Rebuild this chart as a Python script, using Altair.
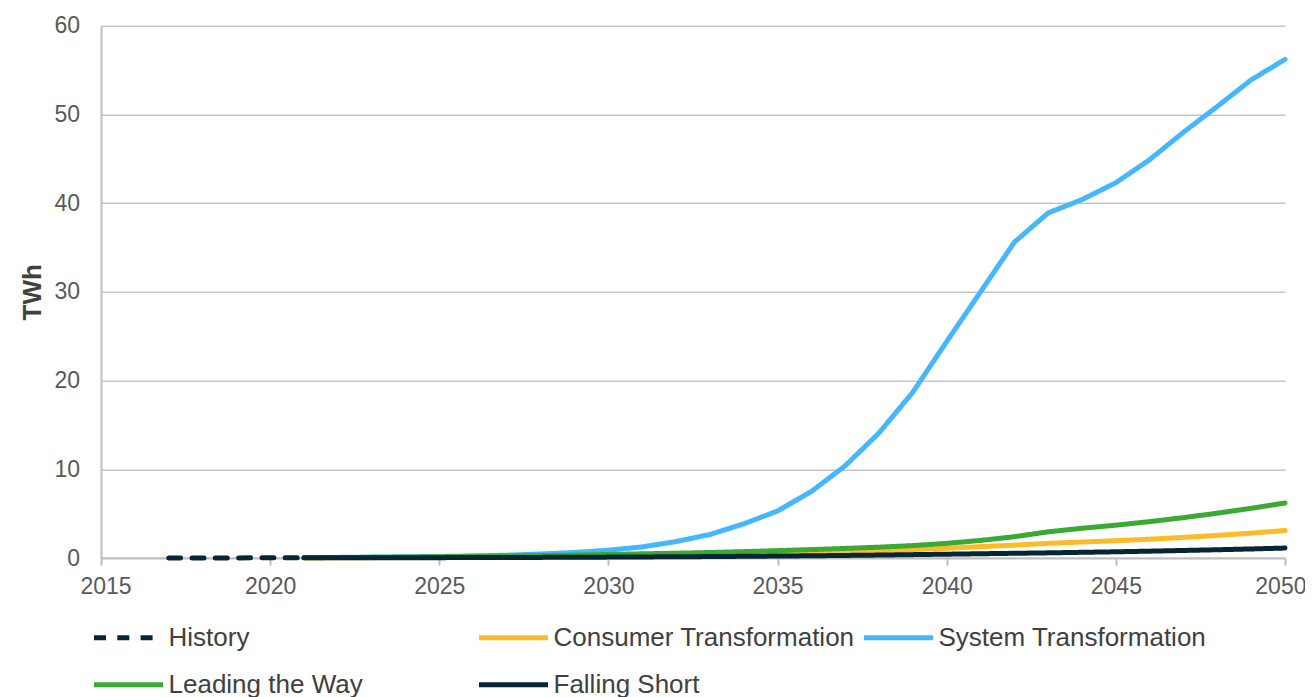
import altair as alt
import pandas as pd

years_hist = [2017, 2018, 2019, 2020, 2021]
history = [0.0, 0.01, 0.01, 0.02, 0.02]

years = list(range(2021, 2051))
consumer = [0.02, 0.03, 0.04, 0.06, 0.08, 0.10, 0.12, 0.15, 0.18, 0.22,
            0.26, 0.30, 0.35, 0.42, 0.50, 0.60, 0.70, 0.82, 0.95, 1.10,
            1.28, 1.45, 1.65, 1.80, 1.95, 2.12, 2.32, 2.55, 2.80, 3.10]
system = [0.05, 0.07, 0.10, 0.13, 0.17, 0.23, 0.32, 0.45, 0.62, 0.88,
          1.25, 1.85, 2.65, 3.85, 5.30, 7.50, 10.4, 14.1, 18.7, 24.4,
          30.0, 35.6, 38.9, 40.4, 42.3, 44.9, 48.0, 50.9, 53.9, 56.2]
leading = [0.03, 0.05, 0.08, 0.11, 0.15, 0.19, 0.23, 0.28, 0.33, 0.40,
           0.47, 0.54, 0.62, 0.72, 0.83, 0.95, 1.08, 1.22, 1.40, 1.65,
           1.98, 2.40, 2.95, 3.35, 3.70, 4.10, 4.55, 5.05, 5.60, 6.20]
falling = [0.02, 0.02, 0.03, 0.03, 0.04, 0.05, 0.06, 0.07, 0.08, 0.10,
           0.12, 0.14, 0.16, 0.19, 0.22, 0.25, 0.29, 0.33, 0.38, 0.43,
           0.48, 0.53, 0.58, 0.64, 0.70, 0.77, 0.85, 0.93, 1.02, 1.12]

legend_order = ["History", "Consumer Transformation", "System Transformation",
                "Leading the Way", "Falling Short"]
colors = ["#062633", "#FFBB26", "#45B8FD", "#3AAA35", "#062633"]
dashes = [[12, 11.3], [1, 0], [1, 0], [1, 0], [1, 0]]

frames = []
for name, vals in [("Consumer Transformation", consumer),
                   ("System Transformation", system),
                   ("Leading the Way", leading),
                   ("Falling Short", falling)]:
    frames.append(pd.DataFrame({"year": years, "value": vals, "series": name}))
frames.append(pd.DataFrame({"year": years_hist, "value": history, "series": "History"}))
df = pd.concat(frames, ignore_index=True)

leg = alt.Legend(
    title=None, orient="none", legendX=-7, legendY=599, columns=3,
    direction="horizontal", gridAlign="all", columnPadding=-1, rowPadding=21,
    symbolType="M-6.9,0H6.9", symbolSize=100, symbolStrokeWidth=5,
    symbolOffset=21.5, labelOffset=27, labelFontSize=26,
    labelFont="Liberation Sans", labelColor="#404040", labelLimit=500,
)

chart = alt.Chart(df).mark_line(strokeWidth=5, strokeCap="round", strokeJoin="round").encode(
    x=alt.X("year:Q", scale=alt.Scale(domain=[2015, 2050], nice=False, zero=False),
            axis=alt.Axis(values=[2015, 2020, 2025, 2030, 2035, 2040, 2045, 2050],
                          format="d", title=None, grid=False, tickSize=7,
                          labelPadding=10, labelFontSize=23, labelColor="#595959",
                          tickColor="#BFBFBF", domainColor="#BFBFBF", domainWidth=2,
                          tickWidth=2, labelFlush=True, labelFlushOffset=21)),
    y=alt.Y("value:Q", scale=alt.Scale(domain=[0, 60], nice=False),
            axis=alt.Axis(values=[0, 10, 20, 30, 40, 50, 60], title="TWh",
                          titleFontSize=26, titleFontWeight="bold", titleColor="#404040",
                          titleX=-68.5, titleBaseline="middle", titleAngle=-90,
                          tickSize=0, labelPadding=21.5, labelFontSize=23,
                          labelColor="#595959", gridColor="#C6C6C6", gridWidth=1.6,
                          domainColor="#BFBFBF", domainWidth=2)),
    color=alt.Color("series:N", scale=alt.Scale(domain=legend_order, range=colors), legend=leg),
    strokeDash=alt.StrokeDash("series:N", scale=alt.Scale(domain=legend_order, range=dashes), legend=leg),
).properties(
    width=1184, height=532.3,
    autosize=alt.AutoSizeParams(type="none"),
    padding={"left": 93, "top": 17.7, "right": 20, "bottom": 145},
).configure(font="Liberation Sans").configure_view(stroke=None)

chart.save("out.html", embed_options={"renderer": "svg", "actions": False})
